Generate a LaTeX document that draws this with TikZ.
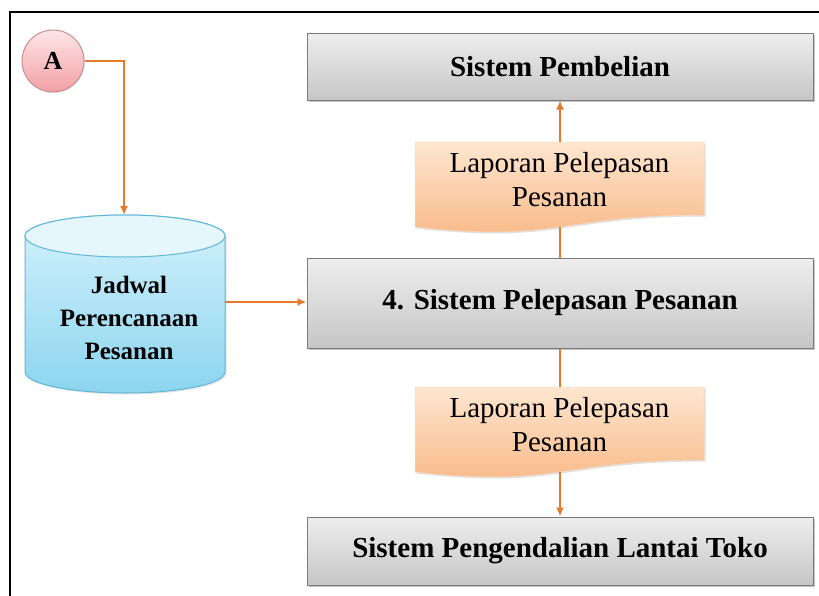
\documentclass[tikz,border=0pt]{standalone}
\usepackage{fontspec}
\setmainfont{Liberation Serif}
\usetikzlibrary{shadows,arrows.meta}
\definecolor{conn}{HTML}{E8782A}
\definecolor{boxtop}{HTML}{EEEEEE}
\definecolor{boxbot}{HTML}{C6C6C6}
\definecolor{boxline}{HTML}{7A7A7A}
\definecolor{doctop}{HTML}{FEE6D0}
\definecolor{docbot}{HTML}{F8B784}
\definecolor{cyltop}{HTML}{D4F2FC}
\definecolor{cylbot}{HTML}{8CD5EF}
\definecolor{cylline}{HTML}{62B6D6}
\definecolor{atop}{HTML}{FDE6E6}
\definecolor{abot}{HTML}{F3A0A6}
\definecolor{aline}{HTML}{C99090}
\tikzset{
  sysbox/.style={rectangle, draw=boxline, line width=1pt, top color=boxtop, bottom color=boxbot,
    minimum width=506pt, inner sep=0pt, font=\fontsize{29}{33}\selectfont\bfseries,
    drop shadow={shadow xshift=2pt, shadow yshift=-2pt, opacity=.45}},
  docshape/.style={top color=doctop, bottom color=docbot, draw=doctop!70!docbot, line width=0.5pt,
    drop shadow={shadow xshift=1.5pt, shadow yshift=-1.5pt, opacity=.25}},
  doctext/.style={align=center, inner sep=0pt, font=\fontsize{29}{34}\selectfont},
  connline/.style={draw=conn, line width=2.2pt},
  connarrow/.style={connline, -{Latex[length=9pt,width=8pt]}},
}
\newcommand\mydocshape[2]{%
  \path[docshape] (415,#2) -- (704,#2) -- (704,#2+73)
    .. controls (559.5,#2+73) and (559.5,#2+101) .. (415,#2+85) -- cycle;
  \node[doctext] (#1) at (559.5,#2+38) {Laporan Pelepasan\\Pesanan};
  \coordinate (#1-top) at (560,#2);
  \coordinate (#1-bot) at (560,#2+85);
}
\begin{document}
\begin{tikzpicture}[x=1pt,y=-1pt]
\useasboundingbox (0,0) rectangle (819,595);
\fill[white] (0,0) rectangle (819,595);
% frame
\draw[black, line width=2pt] (9.5,596) -- (9.5,12) -- (820,12);

% systems
\node[sysbox, minimum height=67pt] (pemb) at (560,66.5) {Sistem Pembelian};
\node[sysbox, minimum height=90pt] (rel) at (560,303) {4. Sistem Pelepasan Pesanan};
\node[sysbox, minimum height=68pt] (floor) at (560,551) {Sistem Pengendalian Lantai Toko};

% documents
\mydocshape{docA}{142}
\mydocshape{docB}{387}

% cylinder
\path[top color=cyltop, bottom color=cylbot, draw=cylline, line width=1pt,
  drop shadow={shadow xshift=1.5pt, shadow yshift=-1.5pt, opacity=.2}]
  (25,236) -- (25,372) arc[start angle=180, end angle=0, x radius=100, y radius=21]
  -- (225,236) arc[start angle=0, end angle=-180, x radius=100, y radius=21] -- cycle;
\draw[fill=cyltop!60!white, draw=cylline, line width=1pt] (125,236) ellipse [x radius=100, y radius=21];
\node[align=center, inner sep=0pt, font=\fontsize{25}{33}\selectfont\bfseries] (cyl) at (129,318)
  {Jadwal\\Perencanaan\\Pesanan};
\coordinate (cyltopc) at (124,215);
\coordinate (cylright) at (225,302);

% connector A
\node[circle, draw=aline, line width=1pt, top color=atop, bottom color=abot, minimum size=62pt,
  inner sep=0pt, font=\fontsize{26}{26}\selectfont\bfseries,
  drop shadow={shadow xshift=1pt, shadow yshift=-1pt, opacity=.2}] (A) at (53,61) {A};

% connectors
\draw[connarrow] (A.east) -| (cyltopc);
\draw[connarrow] (cylright) -- (rel.west |- cylright);
\draw[connline] (rel.north) -- (docA-bot);
\draw[connarrow] (docA-top) -- (pemb.south);
\draw[connline] (rel.south) -- (docB-top);
\draw[connarrow] (docB-bot) -- (floor.north);
\end{tikzpicture}
\end{document}
